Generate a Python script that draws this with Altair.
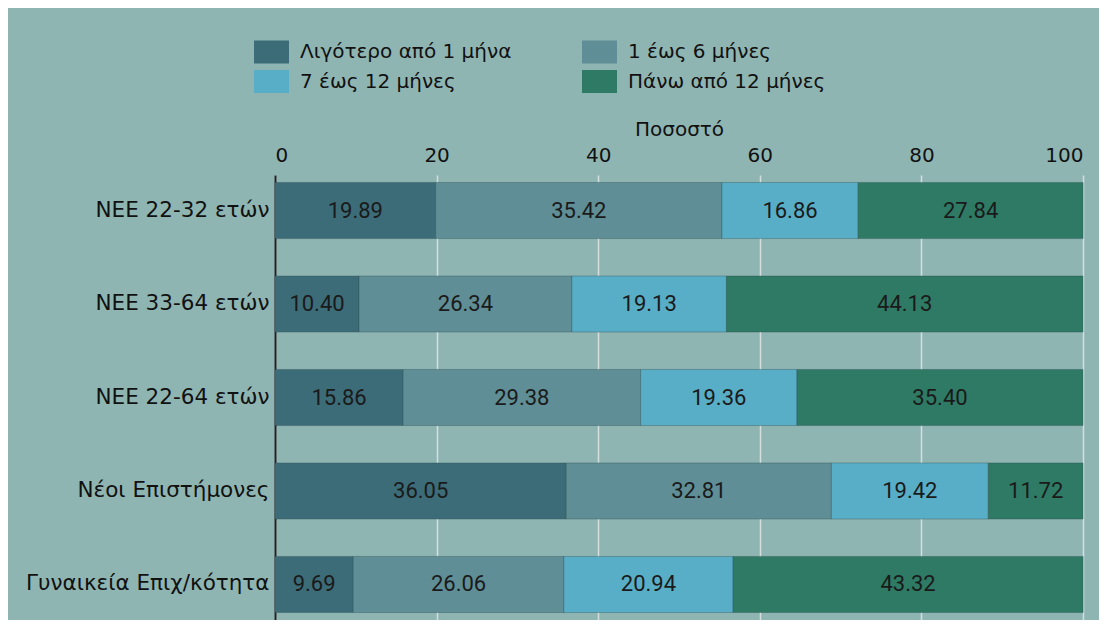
import altair as alt
import pandas as pd

groups = ["ΝΕΕ 22-32 ετών", "ΝΕΕ 33-64 ετών", "ΝΕΕ 22-64 ετών", "Νέοι Επιστήμονες", "Γυναικεία Επιχ/κότητα"]
durations = ["Λιγότερο από 1 μήνα", "1 έως 6 μήνες", "7 έως 12 μήνες", "Πάνω από 12 μήνες"]
colors = ["#3c6c78", "#5f8e96", "#58aec6", "#2e7a64"]
# legend fills column by column: show in the reference's reading order
legend_order = [0, 2, 1, 3]

less_1 = [19.89, 10.40, 15.86, 36.05, 9.69]
m1_6 = [35.42, 26.34, 29.38, 32.81, 26.06]
m7_12 = [16.86, 19.13, 19.36, 19.42, 20.94]
over_12 = [27.84, 44.13, 35.40, 11.72, 43.32]

series = [less_1, m1_6, m7_12, over_12]
rows = []
for k, (d, vals) in enumerate(zip(durations, series)):
    for g, v in zip(groups, vals):
        rows.append({"group": g, "duration": d, "order": k, "value": v})
df = pd.DataFrame(rows)

leg_domain = [durations[i] for i in legend_order]
leg_range = [colors[i] for i in legend_order]

FONT = "DejaVu Sans"

base = alt.Chart(df).transform_stack(
    stack="value", groupby=["group"], as_=["x0", "x1"],
    sort=[alt.SortField("order", order="ascending")]
).transform_calculate(mid="(datum.x0 + datum.x1) / 2")

y_enc = alt.Y("group:N", sort=groups, title=None,
              scale=alt.Scale(paddingInner=0.4, paddingOuter=0.08),
              axis=alt.Axis(labelFont=FONT, labelFontSize=21.5, labelColor="#111111",
                            labelPadding=6, ticks=False, domain=True,
                            domainColor="#222222", domainWidth=2, grid=False,
                            labelLimit=400))

bars = base.mark_bar(stroke="#2a4a50", strokeOpacity=0.35, strokeWidth=1).encode(
    x=alt.X("x0:Q", title="Ποσοστό", scale=alt.Scale(domain=[0, 100], nice=False),
            axis=alt.Axis(orient="top", values=[0, 20, 40, 60, 80, 100], ticks=False,
                          domain=False, labelFont=FONT, labelFontSize=20,
                          labelColor="#111111", labelPadding=10, grid=True,
                          gridColor="#d3dfdd", gridWidth=1.5,
                          titleFont=FONT, titleFontSize=20, titleFontWeight="normal",
                          titleColor="#111111", titlePadding=6)),
    x2="x1:Q",
    y=y_enc,
    color=alt.Color("duration:N",
                    scale=alt.Scale(domain=leg_domain, range=leg_range),
                    legend=alt.Legend(title=None, orient="none", legendX=-21, legendY=-141,
                                      columns=2, columnPadding=70, rowPadding=0,
                                      symbolType="M-1,-0.66H1V0.66H-1Z", symbolSize=1225,
                                      symbolStrokeWidth=0, symbolOpacity=1,
                                      labelFont=FONT, labelFontSize=20, labelColor="#111111",
                                      labelOffset=11, labelLimit=400, padding=0)),
)

labels = base.mark_text(font="Roboto", fontSize=22, color="#1a1a1a").encode(
    x=alt.X("mid:Q"),
    y=alt.Y("group:N", sort=groups),
    text=alt.Text("value:Q", format=".2f"),
)

chart = alt.layer(bars, labels).properties(
    width=808, height=445,
    background="#8fb5b3",
    autosize=alt.AutoSizeParams(type="none"),
    padding={"left": 267, "top": 167, "right": 16, "bottom": 0},
).configure_view(stroke=None)

chart.save("out.html", embed_options={"renderer": "svg", "actions": False})
